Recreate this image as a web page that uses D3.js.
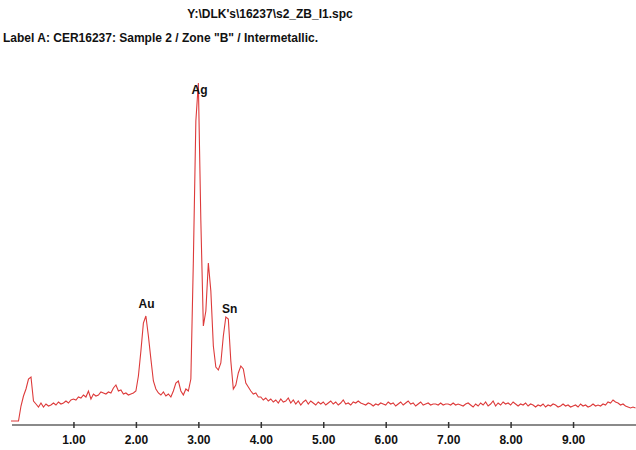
<!DOCTYPE html>
<html>
<head>
<meta charset="utf-8">
<script src="https://cdn.jsdelivr.net/npm/d3@7"></script>
<style>
  body { margin: 0; background: #fff; }
  svg { display: block; }
  text { font-family: "Liberation Sans", Arial, sans-serif; font-weight: bold; fill: #111; }
</style>
</head>
<body>
<script>
// spectrum file + label text
var fileName = "Y:\\DLK's\\16237\\s2_ZB_I1.spc";
var labelText = "Label A: CER16237: Sample 2 / Zone \"B\" / Intermetallic.";

// channel width in keV, counts (one row = 1 keV)
var channelWidth = 0.04;
var counts = [
  0, 0, 0, 0, 15, 25, 32, 42, 44, 20, 17, 14, 18, 14, 17, 15, 16, 18, 16, 19, 17, 18, 20, 18, 21,
  22, 21, 24, 23, 26, 24, 30, 22, 27, 25, 26, 29, 28, 27, 29, 28, 33, 36, 30, 31, 27, 28, 26, 27, 28,
  30, 45, 70, 98, 105, 85, 62, 40, 32, 28, 26, 29, 25, 27, 24, 30, 38, 40, 30, 26, 32, 30, 42, 160, 300,
  338, 200, 95, 110, 158, 130, 75, 54, 51, 58, 85, 104, 102, 60, 32, 36, 48, 55, 52, 38, 34, 30, 27, 28, 24,
  24, 21, 23, 20, 22, 19, 21, 18, 22, 19, 20, 23, 18, 21, 17, 20, 16, 19, 21, 17, 20, 18, 16, 19, 17,
  19, 16, 18, 20, 17, 19, 16, 18, 21, 17, 18, 16, 19, 18, 20, 18, 17, 16, 18, 17, 15, 17, 16, 18, 17,
  16, 19, 17, 18, 15, 17, 19, 16, 18, 20, 17, 18, 15, 17, 19, 16, 17, 18, 16, 17, 17, 16, 18, 16, 17,
  17, 16, 18, 16, 17, 16, 15, 17, 18, 16, 14, 17, 15, 18, 16, 19, 15, 17, 20, 15, 18, 16, 19, 17, 18,
  16, 19, 17, 15, 17, 16, 18, 15, 17, 16, 14, 16, 15, 17, 14, 16, 15, 17, 16, 14, 15, 17, 15, 16, 14,
  15, 16, 14, 17, 15, 16, 14, 15, 17, 15, 16, 15, 17, 16, 19, 18, 21, 19, 18, 16, 17, 15, 14, 13, 14, 13
];

// peak identifications
var peakNames = ["Au", "Ag", "Sn"];
var peakLabelEnergy = [2.17, 3.02, 3.50];
var peakLabelCounts = [113, 327, 108];

var tickValues = [1, 2, 3, 4, 5, 6, 7, 8, 9];

var width = 636, height = 450;

var svg = d3.select("body").append("svg")
    .attr("width", width)
    .attr("height", height);

var x = d3.scaleLinear().domain([0, 10]).range([11, 635.5]);
var y = d3.scaleLinear().domain([0, 340]).range([421, 81]);

var data = counts.map((c, i) => ({ e: i * channelWidth, c: c }));

// header texts
svg.append("text")
    .attr("x", 270).attr("y", 18)
    .attr("text-anchor", "middle")
    .attr("font-size", 12)
    .text(fileName);

svg.append("text")
    .attr("x", 3).attr("y", 42)
    .attr("font-size", 12)
    .text(labelText);

// axis
var xAxis = svg.append("g")
    .attr("transform", "translate(0,425)")
    .call(d3.axisBottom(x).tickValues(tickValues).tickFormat(d3.format(".2f")).tickSizeOuter(0).tickSize(3).tickPadding(7));

xAxis.select(".domain")
    .attr("d", "M12,0H636")
    .attr("stroke", "#8a8a8a")
    .attr("stroke-width", 2);
xAxis.selectAll(".tick line")
    .attr("y1", -3)
    .attr("stroke", "#333")
    .attr("stroke-width", 1.5);
xAxis.selectAll(".tick text")
    .attr("font-size", 12)
    .attr("fill", "#111")
    .style("font-family", "'Liberation Sans', Arial, sans-serif")
    .style("font-weight", "bold");

// spectrum trace
svg.append("path")
    .datum(data)
    .attr("fill", "none")
    .attr("stroke", "#dd3a3a")
    .attr("stroke-width", 1.1)
    .attr("d", d3.line().x(d => x(d.e)).y(d => y(d.c)));

// peak labels
svg.append("g")
    .selectAll("text")
    .data(peakNames)
    .join("text")
    .attr("x", (d, i) => x(peakLabelEnergy[i]))
    .attr("y", (d, i) => y(peakLabelCounts[i]))
    .attr("text-anchor", "middle")
    .attr("font-size", 12)
    .text(d => d);
</script>
</body>
</html>
